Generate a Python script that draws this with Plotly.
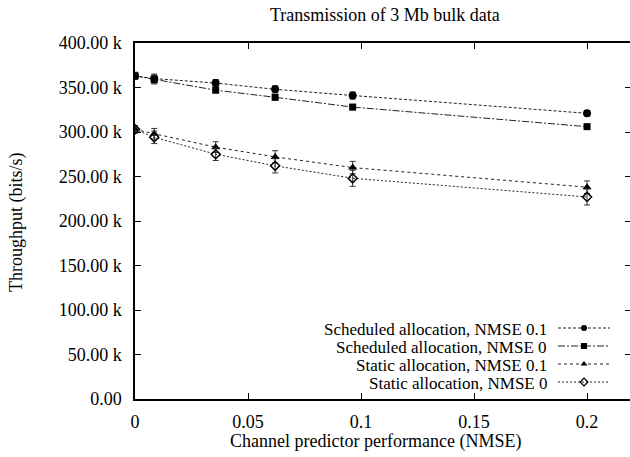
import plotly.graph_objects as go

# Channel predictor performance (NMSE) at which each run was made
nmse = [0.0, 0.0085, 0.0357, 0.062, 0.0963, 0.2]

# Mean throughput (bits/s) per configuration
sched_01 = [363000, 360000, 355000, 348000, 341000, 321000]
sched_0 = [363000, 359000, 347000, 339000, 328000, 306000]
static_01 = [303000, 298000, 283000, 272000, 260000, 238000]
static_0 = [303000, 294000, 275000, 262000, 248000, 227000]

# Half-widths of the confidence intervals (bits/s)
err_sched_01 = [4000, 5000, 4000, 4000, 4000, 3000]
err_sched_0 = [4000, 5000, 3000, 3000, 3000, 2500]
err_static_01 = [4000, 6000, 6000, 7000, 7000, 7000]
err_static_0 = [4000, 7000, 7000, 8000, 9000, 9000]

series_names = [
    "Scheduled allocation, NMSE 0.1",
    "Scheduled allocation, NMSE 0",
    "Static allocation, NMSE 0.1",
    "Static allocation, NMSE 0",
]

y_tickvals = [0, 50000, 100000, 150000, 200000, 250000, 300000, 350000, 400000]
y_ticktext = ["0.00", "50.00 k", "100.00 k", "150.00 k", "200.00 k",
              "250.00 k", "300.00 k", "350.00 k", "400.00 k"]
x_tickvals = [0, 0.05, 0.1, 0.15, 0.2]
x_ticktext = ["0", "0.05", "0.1", "0.15", "0.2"]

FONT = "Liberation Serif, Times New Roman, Times, serif"
W, H = 630, 457
ML, MR, MT, MB = 135, 0, 43, 58
PW, PH = W - ML - MR, H - MT - MB

styles = [
    dict(symbol="circle", size=8, dash="3px,2px", open=False),
    dict(symbol="square", size=7, dash="7px,2px,2px,2px", open=False),
    dict(symbol="triangle-up", size=8, dash="3px,3px", open=False),
    dict(symbol="diamond-open", size=7, dash="2px,2px", open=True),
]
values = [sched_01, sched_0, static_01, static_0]
errors = [err_sched_01, err_sched_0, err_static_01, err_static_0]

fig = go.Figure()

for name, ys, es, st in zip(series_names, values, errors, styles):
    fig.add_trace(go.Scatter(
        x=nmse, y=ys, name=name, mode="lines+markers",
        line=dict(color="#222", width=1, dash=st["dash"]),
        marker=dict(symbol=st["symbol"], size=st["size"], color="black",
                    line=dict(color="black", width=1.5 if st["open"] else 0)),
        error_y=dict(type="data", array=es, visible=True,
                     color="#333", thickness=1, width=3),
        showlegend=False,
    ))

# Legend keys drawn on a hidden overlay axis in pixel units of the plot area
key_x0, key_x1, key_xm = 558, 610, 584
key_rows = [328, 346, 364, 382]
for name, st, row in zip(series_names, styles, key_rows):
    fig.add_trace(go.Scatter(
        x=[key_x0 - ML, key_xm - ML, key_x1 - ML],
        y=[H - MB - row] * 3,
        xaxis="x2", yaxis="y2", mode="lines",
        line=dict(color="#222", width=1, dash=st["dash"]),
        hoverinfo="skip", showlegend=False,
    ))
    fig.add_trace(go.Scatter(
        x=[key_xm - ML], y=[H - MB - row],
        xaxis="x2", yaxis="y2", mode="markers",
        marker=dict(symbol=st["symbol"], size=6, color="black",
                    line=dict(color="black", width=1.3 if st["open"] else 0)),
        hoverinfo="skip", showlegend=False,
    ))
    fig.add_annotation(
        text=name, xref="x2", yref="y2", x=548 - ML, y=H - MB - row - 1.5,
        xanchor="right", yanchor="middle", showarrow=False, borderpad=0,
        font=dict(family=FONT, size=17, color="black"),
    )

# Right-hand mirrored ticks without a border line
fig.add_trace(go.Scatter(
    x=[0], y=[0], yaxis="y3", mode="markers", marker=dict(opacity=0),
    showlegend=False, hoverinfo="skip",
))

fig.update_layout(
    width=W, height=H,
    margin=dict(l=ML, r=MR, t=MT, b=MB),
    paper_bgcolor="white", plot_bgcolor="white",
    font=dict(family=FONT, size=18, color="black"),
    showlegend=False,
    xaxis=dict(
        range=[0, 0.219], tickvals=x_tickvals, ticktext=x_ticktext,
        showgrid=False, zeroline=False, showline=True, linecolor="black",
        linewidth=1.5, mirror="ticks", ticks="inside", ticklen=6,
        tickcolor="black", tickwidth=1, ticklabelstandoff=6,
        tickfont=dict(family=FONT, size=18, color="black"),
    ),
    yaxis=dict(
        range=[0, 400000], tickvals=y_tickvals, ticktext=y_ticktext,
        showgrid=False, zeroline=False, showline=True, linecolor="black",
        linewidth=1.5, ticks="inside", ticklen=6, tickcolor="black",
        tickwidth=1, ticklabelstandoff=8,
        tickfont=dict(family=FONT, size=18, color="black"),
    ),
    yaxis3=dict(
        range=[0, 400000], tickvals=y_tickvals, overlaying="y", side="right",
        anchor="x", showgrid=False, zeroline=False, showline=False,
        ticks="inside", ticklen=5, tickcolor="black", tickwidth=1,
        showticklabels=False,
    ),
    xaxis2=dict(range=[0, PW], domain=[0, 1], visible=False,
                overlaying="x", anchor="y2"),
    yaxis2=dict(range=[0, PH], domain=[0, 1], visible=False,
                overlaying="y", anchor="x2"),
    annotations=list(fig.layout.annotations) + [
        dict(text="Transmission of 3 Mb bulk data", xref="paper", yref="paper",
             x=(384.5 - ML) / PW, y=(H - MB - 15) / PH, xanchor="center",
             yanchor="middle", showarrow=False,
             font=dict(family=FONT, size=18, color="black")),
        dict(text="Channel predictor performance (NMSE)", xref="paper",
             yref="paper", x=(375 - ML) / PW, y=(H - MB - 441) / PH,
             xanchor="center", yanchor="middle", showarrow=False,
             font=dict(family=FONT, size=18, color="black")),
        dict(text="Throughput (bits/s)", xref="paper", yref="paper",
             x=(16 - ML) / PW, y=(H - MB - 222) / PH, xanchor="center",
             yanchor="middle", textangle=-90, showarrow=False,
             font=dict(family=FONT, size=18, color="black")),
    ],
)

fig.write_html("out.html")
